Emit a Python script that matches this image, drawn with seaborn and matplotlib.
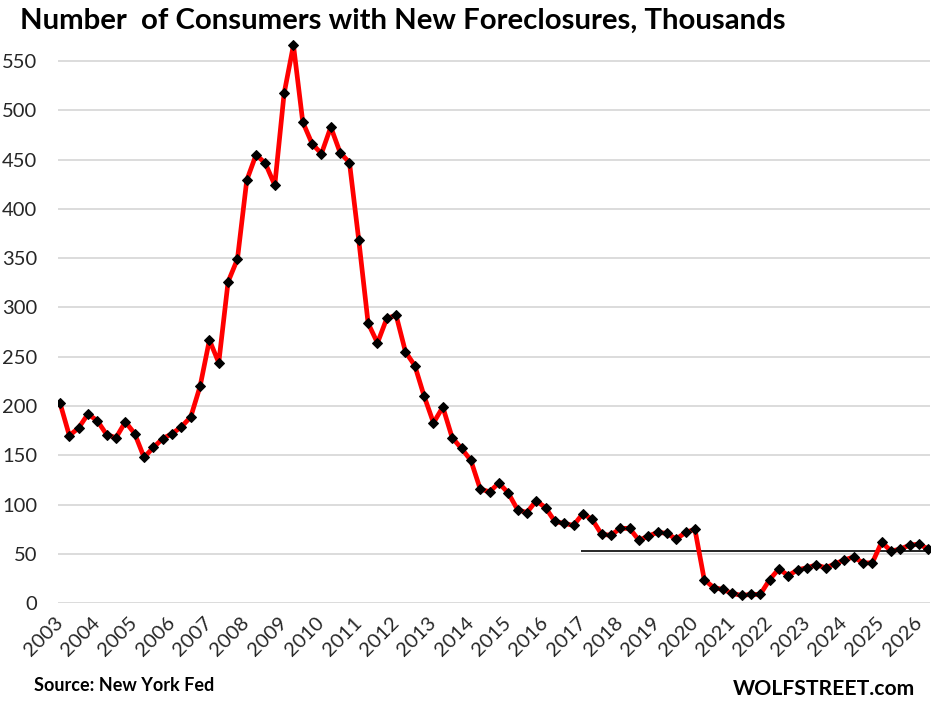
import pandas as pd
import matplotlib
matplotlib.use('Agg')
import matplotlib.pyplot as plt
import seaborn as sns

# Config
OUT_FILE = 'out.png'
TITLE = 'Number  of Consumers with New Foreclosures, Thousands'
SOURCE = 'Source: New York Fed'
BRAND = 'WOLFSTREET.com'

# Data: quarterly, thousands of consumers
FORECLOSURES = [
    203, 170, 178, 192, 185, 171, 168, 184, 172, 148,
    158, 167, 172, 179, 189, 220, 267, 244, 326, 349,
    429, 455, 446, 424, 517, 566, 488, 466, 456, 483,
    457, 447, 368, 284, 264, 289, 292, 255, 241, 210,
    183, 199, 168, 157, 145, 116, 113, 122, 112, 95,
    92, 104, 97, 83, 81, 79, 91, 85, 70, 69,
    76, 76, 64, 68, 72, 71, 65, 72, 75, 24,
    16, 14, 10, 8, 9, 9, 24, 35, 28, 34,
    36, 39, 36, 40, 44, 47, 41, 41, 62, 53,
    55, 59, 60, 55,
]
YEAR_LABELS = ['2003', '2004', '2005', '2006', '2007', '2008', '2009', '2010',
               '2011', '2012', '2013', '2014', '2015', '2016', '2017', '2018',
               '2019', '2020', '2021', '2022', '2023', '2024', '2025', '2026']
Y_TICKS = [0, 50, 100, 150, 200, 250, 300, 350, 400, 450, 500, 550]

# reference line drawn on the chart (level and starting quarter position)
REF_LEVEL = 53.5
REF_START = 55.75


def main():
    df = pd.DataFrame({'quarter': range(len(FORECLOSURES)),
                       'value': FORECLOSURES})

    sns.set_theme(style='whitegrid')
    plt.rcParams['font.family'] = ['Lato', 'DejaVu Sans']

    fig = plt.figure(figsize=(9.36, 7.02), dpi=100)
    ax = fig.add_axes([0.062, 0.1406, 0.9316, 0.8077])

    sns.lineplot(data=df, x='quarter', y='value', ax=ax, color='#ff0000',
                 linewidth=3.4, marker='D', markersize=4.6,
                 markerfacecolor='black', markeredgecolor='black', zorder=3)

    x_max = len(FORECLOSURES) - 1 + 0.18
    ax.hlines(REF_LEVEL, REF_START, x_max, color='black', linewidth=1.2, zorder=2)

    ax.set_xlim(-0.214, x_max)
    ax.set_ylim(0, 575)
    ax.set_yticks(Y_TICKS)
    ax.set_xticks(range(0, 4 * len(YEAR_LABELS), 4))
    ax.set_xticklabels(YEAR_LABELS, rotation=45, ha='right',
                       rotation_mode='anchor', va='center')
    ax.tick_params(axis='x', length=0, pad=12, labelsize=14.5, labelcolor='#262626')
    ax.tick_params(axis='y', length=0, pad=15, labelsize=14.5, labelcolor='#262626')
    ax.set_xlabel('')
    ax.set_ylabel('')

    ax.grid(axis='x', visible=False)
    ax.grid(axis='y', color='#d9d9d9', linewidth=1.3)
    for side in ['top', 'right', 'left', 'bottom']:
        ax.spines[side].set_visible(False)

    fig.text(0.0214, 0.9583, TITLE, fontsize=21.2, fontweight='bold',
             color='black', va='baseline', ha='left')
    fig.text(0.036, 0.0157, SOURCE, fontsize=13, fontweight='bold',
             color='black', va='baseline', ha='left')
    fig.text(0.9776, 0.0100, BRAND, fontsize=15.2, fontweight='bold',
             color='black', va='baseline', ha='right')

    fig.savefig(OUT_FILE, dpi=100)
    plt.close(fig)


if __name__ == '__main__':
    main()
